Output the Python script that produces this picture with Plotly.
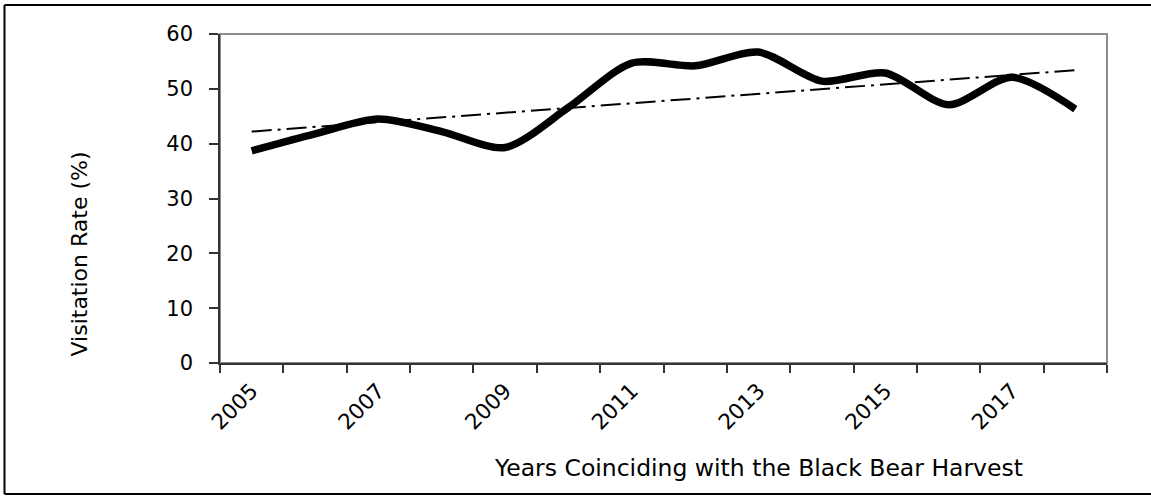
import plotly.graph_objects as go

# ---- data ----
years = ["2005", "2006", "2007", "2008", "2009", "2010", "2011",
         "2012", "2013", "2014", "2015", "2016", "2017", "2018"]
visitation_rate = [38.7, 41.8, 44.5, 42.2, 39.3, 46.6, 54.7,
                   54.2, 56.7, 51.4, 52.9, 47.1, 52.1, 46.3]
trend_years = ["2005", "2018"]
trend_values = [42.2, 53.4]
tick_labels = ["2005", "", "2007", "", "2009", "", "2011",
               "", "2013", "", "2015", "", "2017", ""]
y_ticks = [0, 10, 20, 30, 40, 50, 60]

FONT = "DejaVu Sans"
W, H = 1151, 497
L, R, T, B = 220, 44, 34, 134
PW, PH = W - L - R, H - T - B


def px_x(x):
    return (x - L) / PW


def px_y(y):
    return (H - B - y) / PH


fig = go.Figure()
fig.add_trace(go.Scatter(
    x=years, y=visitation_rate, mode="lines",
    line=dict(color="black", width=7.5, shape="spline", smoothing=0.8),
    hoverinfo="skip"))
fig.add_trace(go.Scatter(
    x=trend_years, y=trend_values, mode="lines",
    line=dict(color="black", width=2, dash="20px,6px,3px,6px"),
    hoverinfo="skip"))

fig.update_layout(
    width=W, height=H, autosize=False,
    margin=dict(l=L, r=R, t=T, b=B, pad=0),
    paper_bgcolor="white", plot_bgcolor="white",
    showlegend=False,
    font=dict(family=FONT, size=21, color="black"),
    xaxis=dict(
        type="category", range=[-0.5, 13.5],
        tickmode="array", tickvals=years, ticktext=tick_labels,
        tickson="boundaries", ticks="outside", ticklen=8,
        tickwidth=1.5, tickcolor="#333333", tickangle=-45,
        showline=True, linecolor="#333333", linewidth=1.5,
        showgrid=False, zeroline=False,
        tickfont=dict(family=FONT, size=21.5, color="black"),
        ticklabelstandoff=5),
    yaxis=dict(
        range=[0, 60], tickmode="array", tickvals=y_ticks,
        ticks="outside", ticklen=9, tickwidth=1.5, tickcolor="#333333",
        showline=True, linecolor="#333333", linewidth=1.5,
        showgrid=False, zeroline=False,
        tickfont=dict(family=FONT, size=21, color="black"),
        ticklabelstandoff=12),
    shapes=[
        dict(type="rect", xref="paper", yref="paper", x0=0, x1=1, y0=0, y1=1,
             line=dict(color="#8c8c8c", width=2), layer="below"),
        dict(type="line", xref="paper", yref="paper",
             x0=px_x(4.5), x1=px_x(1151), y0=px_y(5), y1=px_y(5),
             line=dict(color="black", width=2)),
        dict(type="line", xref="paper", yref="paper",
             x0=px_x(4.5), x1=px_x(1151), y0=px_y(494), y1=px_y(494),
             line=dict(color="black", width=2)),
        dict(type="line", xref="paper", yref="paper",
             x0=px_x(4.5), x1=px_x(4.5), y0=px_y(5), y1=px_y(494),
             line=dict(color="black", width=2)),
    ],
    annotations=[
        dict(text="Visitation Rate (%)", xref="paper", yref="paper",
             x=px_x(79), y=px_y(254.5), xanchor="center", yanchor="middle",
             textangle=-90, showarrow=False,
             font=dict(family=FONT, size=22, color="black")),
        dict(text="Years Coinciding with the Black Bear Harvest",
             xref="paper", yref="paper",
             x=px_x(758), y=px_y(468), xanchor="center", yanchor="middle",
             showarrow=False,
             font=dict(family=FONT, size=23.5, color="black")),
    ],
)

fig.write_html(
    "out.html",
    config={"displayModeBar": False},
    post_script="document.body.style.margin='0';document.body.style.padding='0';",
)
